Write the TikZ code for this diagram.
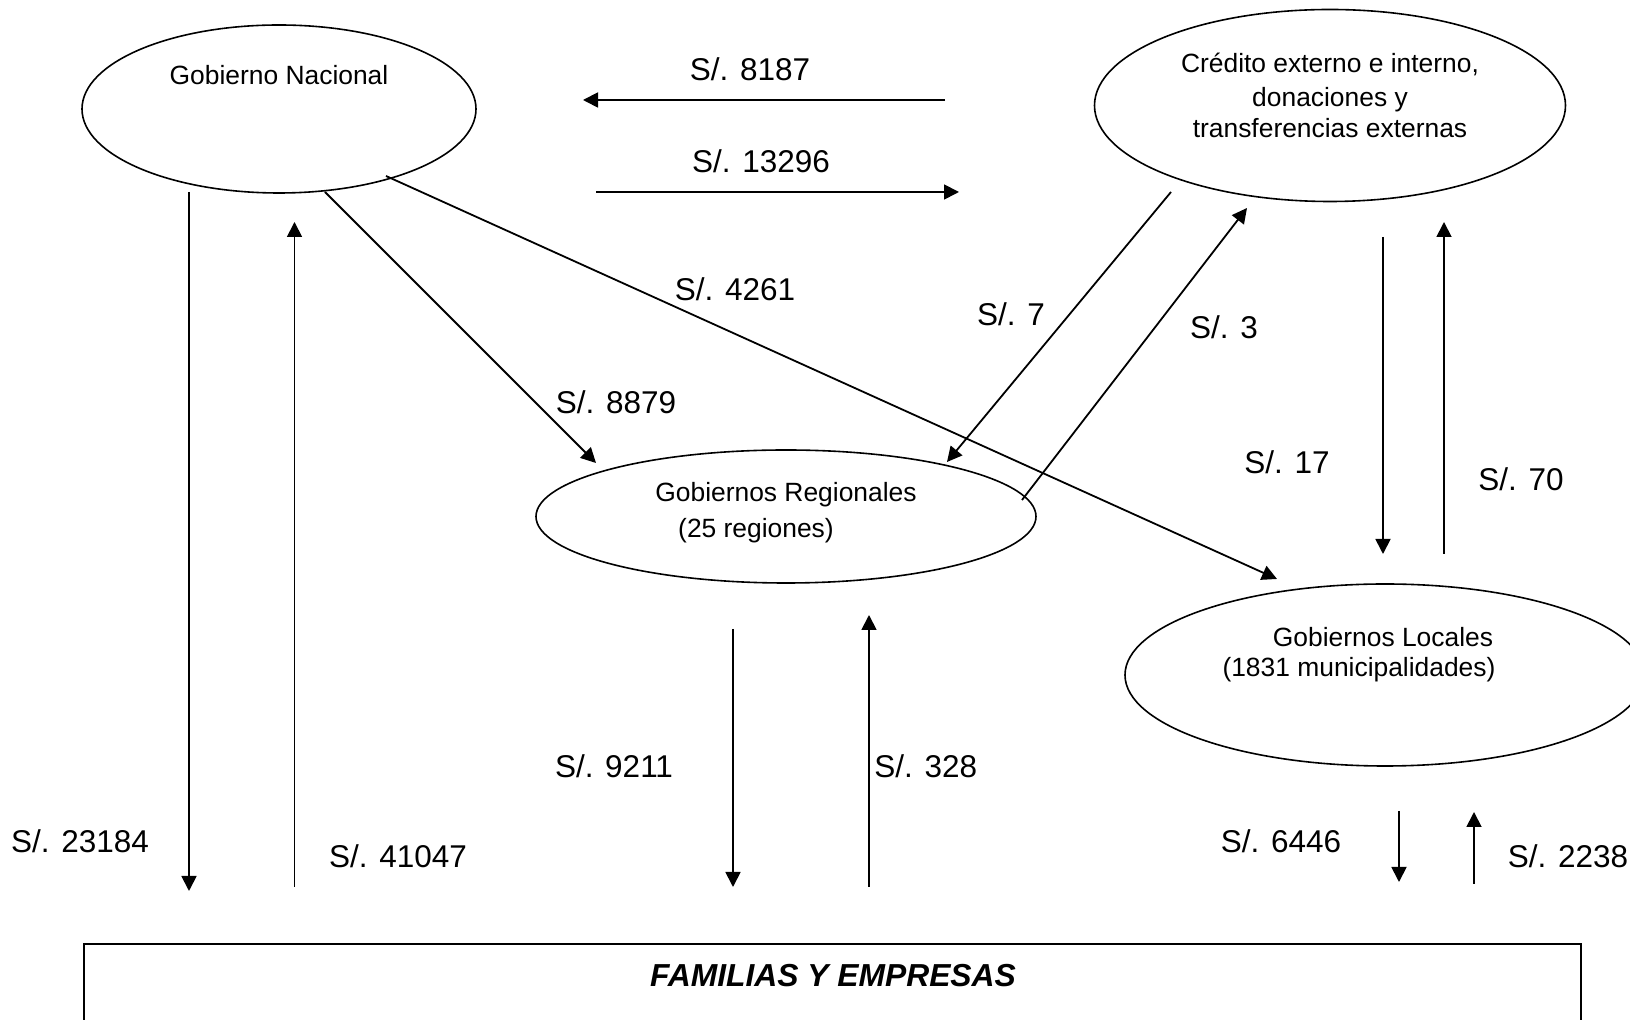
\documentclass[tikz,border=0pt]{standalone}
\usepackage{fontspec}
\setmainfont{Liberation Sans}
\usetikzlibrary{arrows.meta,shapes.geometric}
\begin{document}
\begin{tikzpicture}[x=0.5pt,y=-0.5pt,
  flow/.style={line width=0.9pt,-{Triangle[length=7.5pt,width=7.5pt]}},
  oval/.style={draw,line width=0.8pt,ellipse,inner sep=0pt},
  etext/.style={font=\fontsize{13.2}{15}\selectfont,anchor=base,inner sep=0pt},
  amt/.style={font=\fontsize{15.75}{18}\selectfont,anchor=base,inner sep=0pt},
]
\useasboundingbox (0,0) rectangle (1630,1020);
\clip (0,0) rectangle (1630,1020);

% ellipses
\node[oval,minimum width=197pt,minimum height=84pt] (gn) at (279,109) {};
\node[oval,minimum width=235.5pt,minimum height=96pt] (ce) at (1330,105.5) {};
\node[oval,minimum width=250pt,minimum height=66.5pt] (gr) at (786,516.5) {};
\node[oval,minimum width=260pt,minimum height=91pt] (gl) at (1385,675) {};

% ellipse texts
\node[etext] (gnt) at (279,84.5) {Gobierno Nacional};
\node[etext] (cet1) at (1330,72.5) {Crédito externo e interno,};
\node[etext] (cet2) at (1330,106.5) {donaciones y};
\node[etext] (cet3) at (1330,137.5) {transferencias externas};
\node[etext] (grt1) at (786,502) {Gobiernos Regionales};
\node[etext] (grt2) at (756,538) {(25 regiones)};
\node[etext] (glt1) at (1383,646.5) {Gobiernos Locales};
\node[etext] (glt2) at (1359,676.5) {(1831 municipalidades)};

% box
\node[draw,line width=1.1pt,anchor=north west,minimum width=748.5pt,minimum height=100pt,inner sep=0pt] (fe) at (83,943) {};
\node[font=\fontsize{15.9}{18}\selectfont\bfseries\itshape,anchor=base,inner sep=0pt] (fet) at (833,986.5) {FAMILIAS Y EMPRESAS};

% connector end points
\coordinate (a1s) at (945,100);  \coordinate (a1e) at (583,100);
\coordinate (a2s) at (596,192);  \coordinate (a2e) at (959,192);
\coordinate (a3s) at (189,192);  \coordinate (a3e) at (189,891);
\coordinate (a4s) at (294.5,887);\coordinate (a4e) at (294.5,222);
\coordinate (a5s) at (325,192);  \coordinate (a5e) at (596,463);
\coordinate (a6s) at (386,176);  \coordinate (a6e) at (1277,579);
\coordinate (a7s) at (1171,192); \coordinate (a7e) at (947,462);
\coordinate (a8s) at (1022,500); \coordinate (a8e) at (1247,208);
\coordinate (a9s) at (1383,237); \coordinate (a9e) at (1383,554);
\coordinate (a10s) at (1444,554);\coordinate (a10e) at (1444,222);
\coordinate (a11s) at (733,629); \coordinate (a11e) at (733,887);
\coordinate (a12s) at (869,887); \coordinate (a12e) at (869,615);
\coordinate (a13s) at (1399,811);\coordinate (a13e) at (1399,882);
\coordinate (a14s) at (1474,884);\coordinate (a14e) at (1474,812);

\foreach \i in {1,...,14} {\draw[flow] (a\i s) -- (a\i e);}

% amounts
\node[amt] (l1) at (750,81) {S/. 8187};
\node[amt] (l2) at (761,173) {S/. 13296};
\node[amt] (l3) at (735,301) {S/. 4261};
\node[amt] (l4) at (616,414) {S/. 8879};
\node[amt] (l5) at (1011,326) {S/. 7};
\node[amt] (l6) at (1224,339) {S/. 3};
\node[amt] (l7) at (1287,474) {S/. 17};
\node[amt] (l8) at (1521,491) {S/. 70};
\node[amt] (l9) at (614,778) {S/. 9211};
\node[amt,anchor=base west] (l10) at (874,778) {S/. 328};
\node[amt] (l11) at (80,853) {S/. 23184};
\node[amt] (l12) at (398,868) {S/. 41047};
\node[amt] (l13) at (1281,853) {S/. 6446};
\node[amt] (l14) at (1568,868) {S/. 2238};
\end{tikzpicture}
\end{document}
